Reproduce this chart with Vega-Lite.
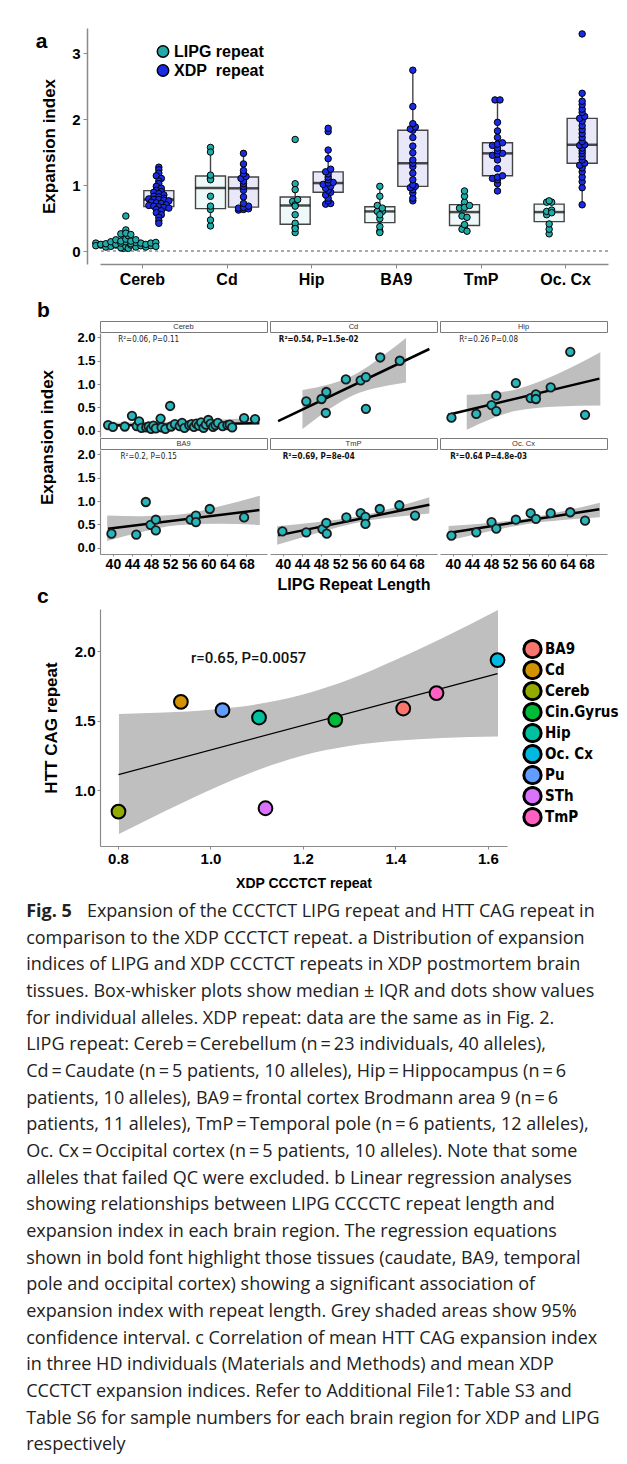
{
"$schema": "https://vega.github.io/schema/vega-lite/v6.json",
"padding": {"left": 26, "top": 28, "right": 0, "bottom": 0},
"background": "white",
"config": {
 "font": "Liberation Sans",
 "view": {"stroke": null},
 "axis": {"grid": false, "domainColor": "#8a8a8a", "tickColor": "#8a8a8a", "labelColor": "#000", "titleColor": "#000", "labelFont": "Liberation Sans", "titleFont": "Liberation Sans", "labelFontWeight": "bold", "titleFontWeight": "bold"},
 "title": {"font": "Liberation Sans", "fontWeight": "bold", "fontSize": 21, "color": "#000", "anchor": "start", "frame": "bounds", "baseline": "alphabetic"},
 "legend": {"titleFont": "Liberation Sans", "labelFont": "Liberation Sans"}
},
"datasets": {
 "alleles": [
  {"region":"Cereb","repeat":"LIPG","len":39,"ei":0.12},{"region":"Cereb","repeat":"LIPG","len":40,"ei":0.08},{"region":"Cereb","repeat":"LIPG","len":42.5,"ei":0.09},{"region":"Cereb","repeat":"LIPG","len":44,"ei":0.32},{"region":"Cereb","repeat":"LIPG","len":45,"ei":0.1},{"region":"Cereb","repeat":"LIPG","len":45.5,"ei":0.2},{"region":"Cereb","repeat":"LIPG","len":46,"ei":0.06},{"region":"Cereb","repeat":"LIPG","len":47,"ei":0.07},{"region":"Cereb","repeat":"LIPG","len":47.5,"ei":0.09},{"region":"Cereb","repeat":"LIPG","len":48,"ei":0.04},
  {"region":"Cereb","repeat":"LIPG","len":48.5,"ei":0.11},{"region":"Cereb","repeat":"LIPG","len":49,"ei":0.05},{"region":"Cereb","repeat":"LIPG","len":50,"ei":0.26},{"region":"Cereb","repeat":"LIPG","len":50.2,"ei":0.07},{"region":"Cereb","repeat":"LIPG","len":51,"ei":0.04},{"region":"Cereb","repeat":"LIPG","len":52,"ei":0.53},{"region":"Cereb","repeat":"LIPG","len":52.2,"ei":0.09},{"region":"Cereb","repeat":"LIPG","len":53,"ei":0.14},{"region":"Cereb","repeat":"LIPG","len":54,"ei":0.1},{"region":"Cereb","repeat":"LIPG","len":54.5,"ei":0.17},
  {"region":"Cereb","repeat":"LIPG","len":55,"ei":0.06},{"region":"Cereb","repeat":"LIPG","len":56,"ei":0.12},{"region":"Cereb","repeat":"LIPG","len":56.5,"ei":0.14},{"region":"Cereb","repeat":"LIPG","len":57,"ei":0.08},{"region":"Cereb","repeat":"LIPG","len":57.5,"ei":0.15},{"region":"Cereb","repeat":"LIPG","len":58,"ei":0.11},{"region":"Cereb","repeat":"LIPG","len":58.5,"ei":0.18},{"region":"Cereb","repeat":"LIPG","len":59,"ei":0.06},{"region":"Cereb","repeat":"LIPG","len":59.5,"ei":0.13},{"region":"Cereb","repeat":"LIPG","len":60,"ei":0.23},
  {"region":"Cereb","repeat":"LIPG","len":60.5,"ei":0.15},{"region":"Cereb","repeat":"LIPG","len":61,"ei":0.08},{"region":"Cereb","repeat":"LIPG","len":61.5,"ei":0.12},{"region":"Cereb","repeat":"LIPG","len":62,"ei":0.17},{"region":"Cereb","repeat":"LIPG","len":63,"ei":0.1},{"region":"Cereb","repeat":"LIPG","len":64,"ei":0.12},{"region":"Cereb","repeat":"LIPG","len":64.5,"ei":0.13},{"region":"Cereb","repeat":"LIPG","len":65,"ei":0.07},{"region":"Cereb","repeat":"LIPG","len":67.5,"ei":0.27},{"region":"Cereb","repeat":"LIPG","len":69.8,"ei":0.25},
  {"region":"Cd","repeat":"LIPG","len":44.9,"ei":0.63},{"region":"Cd","repeat":"LIPG","len":48.1,"ei":0.68},{"region":"Cd","repeat":"LIPG","len":49.1,"ei":0.83},{"region":"Cd","repeat":"LIPG","len":49.0,"ei":0.38},{"region":"Cd","repeat":"LIPG","len":53.2,"ei":1.10},{"region":"Cd","repeat":"LIPG","len":56.3,"ei":1.08},{"region":"Cd","repeat":"LIPG","len":57.4,"ei":1.15},{"region":"Cd","repeat":"LIPG","len":57.4,"ei":0.47},{"region":"Cd","repeat":"LIPG","len":60.4,"ei":1.57},{"region":"Cd","repeat":"LIPG","len":64.5,"ei":1.50},
  {"region":"Hip","repeat":"LIPG","len":39.7,"ei":0.28},{"region":"Hip","repeat":"LIPG","len":44.9,"ei":0.36},{"region":"Hip","repeat":"LIPG","len":48.1,"ei":0.55},{"region":"Hip","repeat":"LIPG","len":49.1,"ei":0.75},{"region":"Hip","repeat":"LIPG","len":49.1,"ei":0.42},{"region":"Hip","repeat":"LIPG","len":53.2,"ei":1.02},{"region":"Hip","repeat":"LIPG","len":56.3,"ei":0.70},{"region":"Hip","repeat":"LIPG","len":57.4,"ei":0.78},{"region":"Hip","repeat":"LIPG","len":57.4,"ei":0.68},{"region":"Hip","repeat":"LIPG","len":60.5,"ei":0.93},{"region":"Hip","repeat":"LIPG","len":64.6,"ei":1.69},{"region":"Hip","repeat":"LIPG","len":67.7,"ei":0.34},
  {"region":"BA9","repeat":"LIPG","len":39.7,"ei":0.30},{"region":"BA9","repeat":"LIPG","len":44.9,"ei":0.28},{"region":"BA9","repeat":"LIPG","len":46.9,"ei":0.98},{"region":"BA9","repeat":"LIPG","len":47.9,"ei":0.49},{"region":"BA9","repeat":"LIPG","len":49.0,"ei":0.60},{"region":"BA9","repeat":"LIPG","len":49.0,"ei":0.37},{"region":"BA9","repeat":"LIPG","len":56.3,"ei":0.60},{"region":"BA9","repeat":"LIPG","len":57.4,"ei":0.69},{"region":"BA9","repeat":"LIPG","len":57.4,"ei":0.55},{"region":"BA9","repeat":"LIPG","len":60.3,"ei":0.83},{"region":"BA9","repeat":"LIPG","len":67.5,"ei":0.65},
  {"region":"TmP","repeat":"LIPG","len":39.9,"ei":0.35},{"region":"TmP","repeat":"LIPG","len":44.9,"ei":0.33},{"region":"TmP","repeat":"LIPG","len":48.3,"ei":0.40},{"region":"TmP","repeat":"LIPG","len":49.1,"ei":0.53},{"region":"TmP","repeat":"LIPG","len":49.2,"ei":0.30},{"region":"TmP","repeat":"LIPG","len":53.3,"ei":0.65},{"region":"TmP","repeat":"LIPG","len":56.3,"ei":0.74},{"region":"TmP","repeat":"LIPG","len":57.3,"ei":0.66},{"region":"TmP","repeat":"LIPG","len":57.3,"ei":0.51},{"region":"TmP","repeat":"LIPG","len":60.3,"ei":0.83},{"region":"TmP","repeat":"LIPG","len":64.4,"ei":0.91},{"region":"TmP","repeat":"LIPG","len":67.7,"ei":0.69},
  {"region":"Oc. Cx","repeat":"LIPG","len":39.7,"ei":0.26},{"region":"Oc. Cx","repeat":"LIPG","len":44.9,"ei":0.33},{"region":"Oc. Cx","repeat":"LIPG","len":48.1,"ei":0.55},{"region":"Oc. Cx","repeat":"LIPG","len":49.1,"ei":0.41},{"region":"Oc. Cx","repeat":"LIPG","len":53.2,"ei":0.60},{"region":"Oc. Cx","repeat":"LIPG","len":56.3,"ei":0.74},{"region":"Oc. Cx","repeat":"LIPG","len":57.4,"ei":0.62},{"region":"Oc. Cx","repeat":"LIPG","len":60.5,"ei":0.74},{"region":"Oc. Cx","repeat":"LIPG","len":64.6,"ei":0.76},{"region":"Oc. Cx","repeat":"LIPG","len":67.7,"ei":0.58},
  {"region":"Cereb","repeat":"XDP","ei":1.27},{"region":"Cereb","repeat":"XDP","ei":1.23},{"region":"Cereb","repeat":"XDP","ei":1.18},{"region":"Cereb","repeat":"XDP","ei":1.14},{"region":"Cereb","repeat":"XDP","ei":1.10},{"region":"Cereb","repeat":"XDP","ei":1.06},{"region":"Cereb","repeat":"XDP","ei":1.02},{"region":"Cereb","repeat":"XDP","ei":0.98},{"region":"Cereb","repeat":"XDP","ei":0.95},{"region":"Cereb","repeat":"XDP","ei":0.92},
  {"region":"Cereb","repeat":"XDP","ei":0.90},{"region":"Cereb","repeat":"XDP","ei":0.89},{"region":"Cereb","repeat":"XDP","ei":0.87},{"region":"Cereb","repeat":"XDP","ei":0.85},{"region":"Cereb","repeat":"XDP","ei":0.83},{"region":"Cereb","repeat":"XDP","ei":0.82},{"region":"Cereb","repeat":"XDP","ei":0.80},{"region":"Cereb","repeat":"XDP","ei":0.79},{"region":"Cereb","repeat":"XDP","ei":0.78},{"region":"Cereb","repeat":"XDP","ei":0.78},
  {"region":"Cereb","repeat":"XDP","ei":0.77},{"region":"Cereb","repeat":"XDP","ei":0.76},{"region":"Cereb","repeat":"XDP","ei":0.74},{"region":"Cereb","repeat":"XDP","ei":0.73},{"region":"Cereb","repeat":"XDP","ei":0.72},{"region":"Cereb","repeat":"XDP","ei":0.70},{"region":"Cereb","repeat":"XDP","ei":0.69},{"region":"Cereb","repeat":"XDP","ei":0.68},{"region":"Cereb","repeat":"XDP","ei":0.67},{"region":"Cereb","repeat":"XDP","ei":0.66},
  {"region":"Cereb","repeat":"XDP","ei":0.65},{"region":"Cereb","repeat":"XDP","ei":0.63},{"region":"Cereb","repeat":"XDP","ei":0.61},{"region":"Cereb","repeat":"XDP","ei":0.58},{"region":"Cereb","repeat":"XDP","ei":0.55},{"region":"Cereb","repeat":"XDP","ei":0.51},{"region":"Cereb","repeat":"XDP","ei":0.46},{"region":"Cereb","repeat":"XDP","ei":0.42},
  {"region":"Cd","repeat":"XDP","ei":0.62},{"region":"Cd","repeat":"XDP","ei":0.63},{"region":"Cd","repeat":"XDP","ei":0.64},{"region":"Cd","repeat":"XDP","ei":0.65},{"region":"Cd","repeat":"XDP","ei":0.66},{"region":"Cd","repeat":"XDP","ei":0.68},{"region":"Cd","repeat":"XDP","ei":0.72},{"region":"Cd","repeat":"XDP","ei":0.82},{"region":"Cd","repeat":"XDP","ei":0.92},{"region":"Cd","repeat":"XDP","ei":0.98},{"region":"Cd","repeat":"XDP","ei":1.02},{"region":"Cd","repeat":"XDP","ei":1.06},{"region":"Cd","repeat":"XDP","ei":1.10},{"region":"Cd","repeat":"XDP","ei":1.13},{"region":"Cd","repeat":"XDP","ei":1.17},{"region":"Cd","repeat":"XDP","ei":1.22},{"region":"Cd","repeat":"XDP","ei":1.32},{"region":"Cd","repeat":"XDP","ei":1.48},
  {"region":"Hip","repeat":"XDP","ei":0.71},{"region":"Hip","repeat":"XDP","ei":0.72},{"region":"Hip","repeat":"XDP","ei":0.76},{"region":"Hip","repeat":"XDP","ei":0.80},{"region":"Hip","repeat":"XDP","ei":0.85},{"region":"Hip","repeat":"XDP","ei":0.89},{"region":"Hip","repeat":"XDP","ei":0.92},{"region":"Hip","repeat":"XDP","ei":0.95},{"region":"Hip","repeat":"XDP","ei":0.98},{"region":"Hip","repeat":"XDP","ei":1.01},{"region":"Hip","repeat":"XDP","ei":1.03},{"region":"Hip","repeat":"XDP","ei":1.04},{"region":"Hip","repeat":"XDP","ei":1.08},{"region":"Hip","repeat":"XDP","ei":1.12},{"region":"Hip","repeat":"XDP","ei":1.17},{"region":"Hip","repeat":"XDP","ei":1.20},{"region":"Hip","repeat":"XDP","ei":1.24},{"region":"Hip","repeat":"XDP","ei":1.40},{"region":"Hip","repeat":"XDP","ei":1.53},{"region":"Hip","repeat":"XDP","ei":1.81},{"region":"Hip","repeat":"XDP","ei":1.86},
  {"region":"BA9","repeat":"XDP","ei":0.76},{"region":"BA9","repeat":"XDP","ei":0.80},{"region":"BA9","repeat":"XDP","ei":0.88},{"region":"BA9","repeat":"XDP","ei":0.93},{"region":"BA9","repeat":"XDP","ei":0.96},{"region":"BA9","repeat":"XDP","ei":0.98},{"region":"BA9","repeat":"XDP","ei":1.00},{"region":"BA9","repeat":"XDP","ei":1.08},{"region":"BA9","repeat":"XDP","ei":1.18},{"region":"BA9","repeat":"XDP","ei":1.28},{"region":"BA9","repeat":"XDP","ei":1.33},{"region":"BA9","repeat":"XDP","ei":1.38},{"region":"BA9","repeat":"XDP","ei":1.49},{"region":"BA9","repeat":"XDP","ei":1.59},{"region":"BA9","repeat":"XDP","ei":1.72},{"region":"BA9","repeat":"XDP","ei":1.83},{"region":"BA9","repeat":"XDP","ei":1.85},{"region":"BA9","repeat":"XDP","ei":1.88},{"region":"BA9","repeat":"XDP","ei":1.93},{"region":"BA9","repeat":"XDP","ei":2.19},{"region":"BA9","repeat":"XDP","ei":2.74},
  {"region":"TmP","repeat":"XDP","ei":0.91},{"region":"TmP","repeat":"XDP","ei":1.02},{"region":"TmP","repeat":"XDP","ei":1.08},{"region":"TmP","repeat":"XDP","ei":1.10},{"region":"TmP","repeat":"XDP","ei":1.12},{"region":"TmP","repeat":"XDP","ei":1.14},{"region":"TmP","repeat":"XDP","ei":1.25},{"region":"TmP","repeat":"XDP","ei":1.38},{"region":"TmP","repeat":"XDP","ei":1.45},{"region":"TmP","repeat":"XDP","ei":1.47},{"region":"TmP","repeat":"XDP","ei":1.48},{"region":"TmP","repeat":"XDP","ei":1.52},{"region":"TmP","repeat":"XDP","ei":1.56},{"region":"TmP","repeat":"XDP","ei":1.60},{"region":"TmP","repeat":"XDP","ei":1.62},{"region":"TmP","repeat":"XDP","ei":1.64},{"region":"TmP","repeat":"XDP","ei":1.72},{"region":"TmP","repeat":"XDP","ei":1.82},{"region":"TmP","repeat":"XDP","ei":1.95},{"region":"TmP","repeat":"XDP","ei":2.29},{"region":"TmP","repeat":"XDP","ei":2.29},
  {"region":"Oc. Cx","repeat":"XDP","ei":0.70},{"region":"Oc. Cx","repeat":"XDP","ei":0.96},{"region":"Oc. Cx","repeat":"XDP","ei":1.05},{"region":"Oc. Cx","repeat":"XDP","ei":1.12},{"region":"Oc. Cx","repeat":"XDP","ei":1.20},{"region":"Oc. Cx","repeat":"XDP","ei":1.26},{"region":"Oc. Cx","repeat":"XDP","ei":1.30},{"region":"Oc. Cx","repeat":"XDP","ei":1.33},{"region":"Oc. Cx","repeat":"XDP","ei":1.38},{"region":"Oc. Cx","repeat":"XDP","ei":1.43},{"region":"Oc. Cx","repeat":"XDP","ei":1.48},{"region":"Oc. Cx","repeat":"XDP","ei":1.52},{"region":"Oc. Cx","repeat":"XDP","ei":1.56},{"region":"Oc. Cx","repeat":"XDP","ei":1.60},{"region":"Oc. Cx","repeat":"XDP","ei":1.61},{"region":"Oc. Cx","repeat":"XDP","ei":1.66},{"region":"Oc. Cx","repeat":"XDP","ei":1.72},{"region":"Oc. Cx","repeat":"XDP","ei":1.78},{"region":"Oc. Cx","repeat":"XDP","ei":1.84},{"region":"Oc. Cx","repeat":"XDP","ei":1.90},{"region":"Oc. Cx","repeat":"XDP","ei":1.97},{"region":"Oc. Cx","repeat":"XDP","ei":2.01},{"region":"Oc. Cx","repeat":"XDP","ei":2.04},{"region":"Oc. Cx","repeat":"XDP","ei":2.10},{"region":"Oc. Cx","repeat":"XDP","ei":2.15},{"region":"Oc. Cx","repeat":"XDP","ei":2.22},{"region":"Oc. Cx","repeat":"XDP","ei":2.27},{"region":"Oc. Cx","repeat":"XDP","ei":2.39},{"region":"Oc. Cx","repeat":"XDP","ei":3.29}
 ],
 "stats": [
  {"region":"Cereb","label":"R²=0.06, P=0.11","sig":false},
  {"region":"Cd","label":"R²=0.54, P=1.5e-02","sig":true},
  {"region":"Hip","label":"R²=0.26 P=0.08","sig":false},
  {"region":"BA9","label":"R²=0.2, P=0.15","sig":false},
  {"region":"TmP","label":"R²=0.69, P=8e-04","sig":true},
  {"region":"Oc. Cx","label":"R²=0.64  P=4.8e-03","sig":true}
 ],
 "bands": [
  {"region":"Cereb","len":39,"lo":0.063,"hi":0.173},{"region":"Cereb","len":46.75,"lo":0.110,"hi":0.180},{"region":"Cereb","len":54.5,"lo":0.148,"hi":0.197},{"region":"Cereb","len":62.25,"lo":0.165,"hi":0.235},{"region":"Cereb","len":70,"lo":0.172,"hi":0.282},
  {"region":"Cd","len":44.1,"lo":0.036,"hi":0.872},{"region":"Cd","len":47,"lo":0.264,"hi":0.928},{"region":"Cd","len":50,"lo":0.483,"hi":1.001},{"region":"Cd","len":54,"lo":0.725,"hi":1.151},{"region":"Cd","len":58,"lo":0.876,"hi":1.390},{"region":"Cd","len":62,"lo":0.969,"hi":1.687},{"region":"Cd","len":65.8,"lo":1.036,"hi":1.990},
  {"region":"Hip","len":42.9,"lo":0.02,"hi":0.77},{"region":"Hip","len":48,"lo":0.25,"hi":0.80},{"region":"Hip","len":53,"lo":0.42,"hi":0.88},{"region":"Hip","len":62,"lo":0.52,"hi":1.22},{"region":"Hip","len":70.9,"lo":0.54,"hi":1.68},
  {"region":"BA9","len":38.8,"lo":0.145,"hi":0.691},{"region":"BA9","len":46,"lo":0.336,"hi":0.672},{"region":"BA9","len":53.5,"lo":0.484,"hi":0.704},{"region":"BA9","len":62,"lo":0.514,"hi":0.878},{"region":"BA9","len":70.8,"lo":0.488,"hi":1.116},
  {"region":"TmP","len":38.8,"lo":0.062,"hi":0.462},{"region":"TmP","len":47.4,"lo":0.322,"hi":0.550},{"region":"TmP","len":56,"lo":0.548,"hi":0.674},{"region":"TmP","len":63.35,"lo":0.657,"hi":0.863},{"region":"TmP","len":70.7,"lo":0.735,"hi":1.083},
  {"region":"Oc. Cx","len":39.1,"lo":0.153,"hi":0.463},{"region":"Oc. Cx","len":47,"lo":0.339,"hi":0.527},{"region":"Oc. Cx","len":55,"lo":0.500,"hi":0.620},{"region":"Oc. Cx","len":63,"lo":0.592,"hi":0.780},{"region":"Oc. Cx","len":70.8,"lo":0.655,"hi":0.963}
 ],
 "htt": [
  {"region":"BA9","xdp":1.417,"htt":1.589},{"region":"Cd","xdp":0.936,"htt":1.637},{"region":"Cereb","xdp":0.801,"htt":0.846},{"region":"Cin.Gyrus","xdp":1.270,"htt":1.507},{"region":"Hip","xdp":1.105,"htt":1.524},{"region":"Oc. Cx","xdp":1.621,"htt":1.938},{"region":"Pu","xdp":1.026,"htt":1.577},{"region":"STh","xdp":1.119,"htt":0.870},{"region":"TmP","xdp":1.489,"htt":1.700}
 ],
 "cband": [
  {"xdp":0.802,"lo":0.684,"hi":1.550},{"xdp":0.9,"lo":0.847,"hi":1.560},{"xdp":1.0,"lo":1.004,"hi":1.580},{"xdp":1.1,"lo":1.142,"hi":1.619},{"xdp":1.2,"lo":1.250,"hi":1.690},{"xdp":1.3,"lo":1.318,"hi":1.798},{"xdp":1.4,"lo":1.356,"hi":1.938},{"xdp":1.5,"lo":1.376,"hi":2.094},{"xdp":1.622,"lo":1.387,"hi":2.299}
 ],
 "cnote": [{"label":"r=0.65, P=0.0057"}]
},
"resolve": {"scale": {"fill": "independent"}, "legend": {"fill": "independent"}},
"spacing": 2,
"vconcat": [
 {"spacing": 12, "vconcat": [
  {
   "width": 508, "height": 236,
   "title": {"text": "a", "dx": -5, "dy": 24, "offset": 0},
   "data": {"name": "alleles"},
   "resolve": {"scale": {"xOffset": "independent"}},
   "layer": [
    {"data": {"values": [{}]}, "mark": {"type": "rule", "strokeDash": [3, 3], "color": "#555", "strokeWidth": 1}, "encoding": {"y": {"datum": 0, "type": "quantitative"}}},
    {"transform": [{"filter": "datum.repeat == 'LIPG'"}],
     "mark": {"type": "boxplot", "extent": 1.5, "size": 30, "outliers": false, "box": {"color": "#eef8f8", "stroke": "#444", "strokeWidth": 1.4}, "median": {"color": "#000", "thickness": 2.5}, "rule": {"color": "#444", "strokeWidth": 1.4}},
     "encoding": {
      "x": {"field": "region", "type": "nominal", "sort": ["Cereb","Cd","Hip","BA9","TmP","Oc. Cx"], "scale": {"paddingInner": 0, "paddingOuter": 0}, "axis": {"title": null, "labelAngle": 0, "labelFontSize": 16, "labelPadding": 3, "tickSize": 4, "domainWidth": 1.5}},
      "xOffset": {"field": "repeat", "type": "nominal", "scale": {"domain": ["LIPG","XDP"], "paddingInner": 0, "paddingOuter": 0.283}},
      "y": {"field": "ei", "type": "quantitative", "scale": {"domain": [-0.197, 3.38], "nice": false, "zero": false}, "axis": {"values": [0,1,2,3], "format": "d", "title": "Expansion index", "titleFontSize": 17, "labelFontSize": 15, "tickSize": 4, "labelPadding": 3, "titlePadding": 13, "offset": 13, "domainWidth": 1.5}}
     }},
    {"transform": [{"filter": "datum.repeat == 'XDP'"}],
     "mark": {"type": "boxplot", "extent": 1.5, "size": 30, "outliers": false, "box": {"color": "#e8e8f8", "stroke": "#444", "strokeWidth": 1.4}, "median": {"color": "#000", "thickness": 2.5}, "rule": {"color": "#444", "strokeWidth": 1.4}},
     "encoding": {
      "x": {"field": "region", "type": "nominal", "sort": ["Cereb","Cd","Hip","BA9","TmP","Oc. Cx"], "scale": {"paddingInner": 0, "paddingOuter": 0}, "axis": {"title": null, "labelAngle": 0, "labelFontSize": 16, "labelPadding": 3, "tickSize": 4, "domainWidth": 1.5}},
      "xOffset": {"field": "repeat", "type": "nominal", "scale": {"domain": ["LIPG","XDP"], "paddingInner": 0, "paddingOuter": 0.283}},
      "y": {"field": "ei", "type": "quantitative", "scale": {"domain": [-0.197, 3.38], "nice": false, "zero": false}, "axis": {"values": [0,1,2,3], "format": "d", "title": "Expansion index", "titleFontSize": 17, "labelFontSize": 15, "tickSize": 4, "labelPadding": 3, "titlePadding": 13, "offset": 13, "domainWidth": 1.5}}
     }},
    {"transform": [
      {"bin": {"step": 0.05}, "field": "ei", "as": "eb"},
      {"window": [{"op": "row_number", "as": "k"}], "groupby": ["region", "repeat", "eb"]},
      {"window": [{"op": "row_number", "as": "one"}], "groupby": ["region", "repeat", "eb", "k"]},
      {"stack": "one", "groupby": ["region", "repeat", "eb"], "offset": "center", "as": ["s0", "s1"]},
      {"filter": "datum.repeat == 'LIPG'"}
     ],
     "mark": {"type": "circle", "size": 42, "stroke": "#000", "strokeWidth": 1, "opacity": 1},
     "encoding": {
      "x": {"field": "region", "type": "nominal", "sort": ["Cereb","Cd","Hip","BA9","TmP","Oc. Cx"]},
      "xOffset": {"field": "s0", "type": "quantitative", "scale": {"domain": [-4, 16], "range": [-24.17, 75.83]}},
      "y": {"field": "ei", "type": "quantitative"},
      "fill": {"field": "repeat", "type": "nominal", "scale": {"domain": ["LIPG","XDP"], "range": ["#20aaa8", "#1a2be6"]},
       "legend": {"orient": "none", "legendX": 55, "legendY": 14, "title": null, "labelFontSize": 16, "labelFontWeight": "bold", "labelColor": "#000", "symbolSize": 130, "symbolStrokeColor": "#000", "symbolStrokeWidth": 1.5, "symbolType": "circle", "labelExpr": "datum.label == 'LIPG' ? 'LIPG repeat' : 'XDP\u00a0 repeat'", "rowPadding": 0, "clipHeight": 19, "labelOffset": 3, "padding": 0}}
     }},
    {"transform": [
      {"bin": {"step": 0.05}, "field": "ei", "as": "eb"},
      {"window": [{"op": "row_number", "as": "k"}], "groupby": ["region", "repeat", "eb"]},
      {"window": [{"op": "row_number", "as": "one"}], "groupby": ["region", "repeat", "eb", "k"]},
      {"stack": "one", "groupby": ["region", "repeat", "eb"], "offset": "center", "as": ["s0", "s1"]},
      {"filter": "datum.repeat == 'XDP'"}
     ],
     "mark": {"type": "circle", "size": 42, "stroke": "#000", "strokeWidth": 1, "opacity": 1},
     "encoding": {
      "x": {"field": "region", "type": "nominal", "sort": ["Cereb","Cd","Hip","BA9","TmP","Oc. Cx"]},
      "xOffset": {"field": "s0", "type": "quantitative", "scale": {"domain": [-4, 16], "range": [8.83, 108.83]}},
      "y": {"field": "ei", "type": "quantitative"},
      "fill": {"field": "repeat", "type": "nominal", "scale": {"domain": ["LIPG","XDP"], "range": ["#20aaa8", "#1a2be6"]}}
     }}
   ]
  },
  {"title": {"text": "c", "orient": "bottom", "anchor": "start", "offset": -6, "baseline": "top"},
   "vconcat": [
   {"title": {"text": "b", "dx": -2, "offset": 0},
    "columns": 3, "spacing": {"row": 1, "column": 3}, "bounds": "flush",
    "concat": [
     {"width": 167, "height": 11, "view": {"stroke": "#7a7a7a", "strokeWidth": 1}, "data": {"name": "stats"}, "transform": [{"filter": "datum.region == 'Cereb'"}], "mark": {"type": "text", "fontSize": 7.5, "color": "#333", "baseline": "middle"}, "encoding": {"x": {"field": "region", "type": "nominal", "axis": null}, "y": {"field": "region", "type": "nominal", "axis": null}, "text": {"field": "region"}}},
     {"width": 167, "height": 11, "view": {"stroke": "#7a7a7a", "strokeWidth": 1}, "data": {"name": "stats"}, "transform": [{"filter": "datum.region == 'Cd'"}], "mark": {"type": "text", "fontSize": 7.5, "color": "#333", "baseline": "middle"}, "encoding": {"x": {"field": "region", "type": "nominal", "axis": null}, "y": {"field": "region", "type": "nominal", "axis": null}, "text": {"field": "region"}}},
     {"width": 167, "height": 11, "view": {"stroke": "#7a7a7a", "strokeWidth": 1}, "data": {"name": "stats"}, "transform": [{"filter": "datum.region == 'Hip'"}], "mark": {"type": "text", "fontSize": 7.5, "color": "#333", "baseline": "middle"}, "encoding": {"x": {"field": "region", "type": "nominal", "axis": null}, "y": {"field": "region", "type": "nominal", "axis": null}, "text": {"field": "region"}}},
     {"width": 167, "height": 104,
      "layer": [
       {"encoding": {"x": {"field": "len", "type": "quantitative", "scale": {"domain": [37.3, 72.3], "nice": false, "zero": false}, "axis": null}, "y": {"field": "ei", "type": "quantitative", "scale": {"domain": [-0.135, 2.095], "nice": false, "zero": false}, "axis": {"values": [0,0.5,1,1.5,2], "format": ".1f", "title": null, "labelFontSize": 13, "tickSize": 3, "labelPadding": 2, "domainWidth": 1.2}}},
        "layer": [
         {"data": {"name": "bands"}, "transform": [{"filter": "datum.region == 'Cereb'"}], "mark": {"type": "area", "color": "#bebebe", "interpolate": "monotone"}, "encoding": {"y": {"field": "lo"}, "y2": {"field": "hi"}}},
         {"data": {"name": "alleles"}, "transform": [{"filter": "datum.repeat == 'LIPG' && datum.region == 'Cereb'"}, {"regression": "ei", "on": "len", "extent": [39, 70.7]}], "mark": {"type": "line", "color": "#000", "strokeWidth": 2.5}},
         {"data": {"name": "alleles"}, "transform": [{"filter": "datum.repeat == 'LIPG' && datum.region == 'Cereb'"}], "mark": {"type": "circle", "size": 72, "fill": "#27b6bc", "stroke": "#1a1a1a", "strokeWidth": 1.8, "opacity": 1}}
        ]},
       {"data": {"name": "stats"}, "transform": [{"filter": "datum.region == 'Cereb'"}], "mark": {"type": "text", "font": "Liberation Sans Narrow, DejaVu Sans Condensed, sans-serif", "fontSize": 8, "color": "#222"},
        "encoding": {"x": {"datum": 47.5, "type": "quantitative", "axis": null}, "y": {"datum": 1.95, "type": "quantitative", "axis": {"values": [0,0.5,1,1.5,2], "format": ".1f", "title": null, "labelFontSize": 13, "tickSize": 3, "labelPadding": 2, "domainWidth": 1.2}}, "text": {"field": "label"}}}
      ]},
     {"width": 167, "height": 104,
      "layer": [
       {"encoding": {"x": {"field": "len", "type": "quantitative", "scale": {"domain": [37.3, 72.3], "nice": false, "zero": false}, "axis": null}, "y": {"field": "ei", "type": "quantitative", "scale": {"domain": [-0.135, 2.095], "nice": false, "zero": false}, "axis": null}},
        "layer": [
         {"data": {"name": "bands"}, "transform": [{"filter": "datum.region == 'Cd'"}], "mark": {"type": "area", "color": "#bebebe", "interpolate": "monotone"}, "encoding": {"y": {"field": "lo"}, "y2": {"field": "hi"}}},
         {"data": {"name": "alleles"}, "transform": [{"filter": "datum.repeat == 'LIPG' && datum.region == 'Cd'"}, {"regression": "ei", "on": "len", "extent": [39, 70.7]}], "mark": {"type": "line", "color": "#000", "strokeWidth": 2.5}},
         {"data": {"name": "alleles"}, "transform": [{"filter": "datum.repeat == 'LIPG' && datum.region == 'Cd'"}], "mark": {"type": "circle", "size": 72, "fill": "#27b6bc", "stroke": "#1a1a1a", "strokeWidth": 1.8, "opacity": 1}}
        ]},
       {"data": {"name": "stats"}, "transform": [{"filter": "datum.region == 'Cd'"}], "mark": {"type": "text", "font": "Liberation Sans Narrow, DejaVu Sans Condensed, sans-serif", "fontSize": 8, "fontWeight": "bold", "color": "#111"},
        "encoding": {"x": {"datum": 47.5, "type": "quantitative", "axis": null}, "y": {"datum": 1.95, "type": "quantitative", "axis": null}, "text": {"field": "label"}}}
      ]},
     {"width": 167, "height": 104,
      "layer": [
       {"encoding": {"x": {"field": "len", "type": "quantitative", "scale": {"domain": [37.3, 72.3], "nice": false, "zero": false}, "axis": null}, "y": {"field": "ei", "type": "quantitative", "scale": {"domain": [-0.135, 2.095], "nice": false, "zero": false}, "axis": null}},
        "layer": [
         {"data": {"name": "bands"}, "transform": [{"filter": "datum.region == 'Hip'"}], "mark": {"type": "area", "color": "#bebebe", "interpolate": "monotone"}, "encoding": {"y": {"field": "lo"}, "y2": {"field": "hi"}}},
         {"data": {"name": "alleles"}, "transform": [{"filter": "datum.repeat == 'LIPG' && datum.region == 'Hip'"}, {"regression": "ei", "on": "len", "extent": [39, 70.7]}], "mark": {"type": "line", "color": "#000", "strokeWidth": 2.5}},
         {"data": {"name": "alleles"}, "transform": [{"filter": "datum.repeat == 'LIPG' && datum.region == 'Hip'"}], "mark": {"type": "circle", "size": 72, "fill": "#27b6bc", "stroke": "#1a1a1a", "strokeWidth": 1.8, "opacity": 1}}
        ]},
       {"data": {"name": "stats"}, "transform": [{"filter": "datum.region == 'Hip'"}], "mark": {"type": "text", "font": "Liberation Sans Narrow, DejaVu Sans Condensed, sans-serif", "fontSize": 8, "color": "#222"},
        "encoding": {"x": {"datum": 47.5, "type": "quantitative", "axis": null}, "y": {"datum": 1.95, "type": "quantitative", "axis": null}, "text": {"field": "label"}}}
      ]},
     {"width": 167, "height": 11, "view": {"stroke": "#7a7a7a", "strokeWidth": 1}, "data": {"name": "stats"}, "transform": [{"filter": "datum.region == 'BA9'"}], "mark": {"type": "text", "fontSize": 7.5, "color": "#333", "baseline": "middle"}, "encoding": {"x": {"field": "region", "type": "nominal", "axis": null}, "y": {"field": "region", "type": "nominal", "axis": null}, "text": {"field": "region"}}},
     {"width": 167, "height": 11, "view": {"stroke": "#7a7a7a", "strokeWidth": 1}, "data": {"name": "stats"}, "transform": [{"filter": "datum.region == 'TmP'"}], "mark": {"type": "text", "fontSize": 7.5, "color": "#333", "baseline": "middle"}, "encoding": {"x": {"field": "region", "type": "nominal", "axis": null}, "y": {"field": "region", "type": "nominal", "axis": null}, "text": {"field": "region"}}},
     {"width": 167, "height": 11, "view": {"stroke": "#7a7a7a", "strokeWidth": 1}, "data": {"name": "stats"}, "transform": [{"filter": "datum.region == 'Oc. Cx'"}], "mark": {"type": "text", "fontSize": 7.5, "color": "#333", "baseline": "middle"}, "encoding": {"x": {"field": "region", "type": "nominal", "axis": null}, "y": {"field": "region", "type": "nominal", "axis": null}, "text": {"field": "region"}}},
     {"width": 167, "height": 104,
      "layer": [
       {"encoding": {"x": {"field": "len", "type": "quantitative", "scale": {"domain": [37.3, 72.3], "nice": false, "zero": false}, "axis": {"values": [40,44,48,52,56,60,64,68], "title": null, "labelFontSize": 14, "tickSize": 2, "labelPadding": 1, "domainWidth": 1.2}}, "y": {"field": "ei", "type": "quantitative", "scale": {"domain": [-0.135, 2.095], "nice": false, "zero": false}, "axis": {"values": [0,0.5,1,1.5,2], "format": ".1f", "title": "Expansion index", "titleFontSize": 17, "titleY": -13, "titlePadding": 20, "labelFontSize": 13, "tickSize": 3, "labelPadding": 2, "domainWidth": 1.2}}},
        "layer": [
         {"data": {"name": "bands"}, "transform": [{"filter": "datum.region == 'BA9'"}], "mark": {"type": "area", "color": "#bebebe", "interpolate": "monotone"}, "encoding": {"y": {"field": "lo"}, "y2": {"field": "hi"}}},
         {"data": {"name": "alleles"}, "transform": [{"filter": "datum.repeat == 'LIPG' && datum.region == 'BA9'"}, {"regression": "ei", "on": "len", "extent": [39, 70.7]}], "mark": {"type": "line", "color": "#000", "strokeWidth": 2.5}},
         {"data": {"name": "alleles"}, "transform": [{"filter": "datum.repeat == 'LIPG' && datum.region == 'BA9'"}], "mark": {"type": "circle", "size": 72, "fill": "#27b6bc", "stroke": "#1a1a1a", "strokeWidth": 1.8, "opacity": 1}}
        ]},
       {"data": {"name": "stats"}, "transform": [{"filter": "datum.region == 'BA9'"}], "mark": {"type": "text", "font": "Liberation Sans Narrow, DejaVu Sans Condensed, sans-serif", "fontSize": 8, "color": "#222"},
        "encoding": {"x": {"datum": 47.5, "type": "quantitative", "axis": {"values": [40,44,48,52,56,60,64,68], "title": null, "labelFontSize": 14, "tickSize": 2, "labelPadding": 1, "domainWidth": 1.2}}, "y": {"datum": 1.95, "type": "quantitative", "axis": {"values": [0,0.5,1,1.5,2], "format": ".1f", "title": "Expansion index", "titleFontSize": 17, "titleY": -13, "titlePadding": 20, "labelFontSize": 13, "tickSize": 3, "labelPadding": 2, "domainWidth": 1.2}}, "text": {"field": "label"}}}
      ]},
     {"width": 167, "height": 104,
      "layer": [
       {"encoding": {"x": {"field": "len", "type": "quantitative", "scale": {"domain": [37.3, 72.3], "nice": false, "zero": false}, "axis": {"values": [40,44,48,52,56,60,64,68], "title": "LIPG Repeat Length", "titleFontSize": 16, "titlePadding": 5, "labelFontSize": 14, "tickSize": 2, "labelPadding": 1, "domainWidth": 1.2}}, "y": {"field": "ei", "type": "quantitative", "scale": {"domain": [-0.135, 2.095], "nice": false, "zero": false}, "axis": null}},
        "layer": [
         {"data": {"name": "bands"}, "transform": [{"filter": "datum.region == 'TmP'"}], "mark": {"type": "area", "color": "#bebebe", "interpolate": "monotone"}, "encoding": {"y": {"field": "lo"}, "y2": {"field": "hi"}}},
         {"data": {"name": "alleles"}, "transform": [{"filter": "datum.repeat == 'LIPG' && datum.region == 'TmP'"}, {"regression": "ei", "on": "len", "extent": [39, 70.7]}], "mark": {"type": "line", "color": "#000", "strokeWidth": 2.5}},
         {"data": {"name": "alleles"}, "transform": [{"filter": "datum.repeat == 'LIPG' && datum.region == 'TmP'"}], "mark": {"type": "circle", "size": 72, "fill": "#27b6bc", "stroke": "#1a1a1a", "strokeWidth": 1.8, "opacity": 1}}
        ]},
       {"data": {"name": "stats"}, "transform": [{"filter": "datum.region == 'TmP'"}], "mark": {"type": "text", "font": "Liberation Sans Narrow, DejaVu Sans Condensed, sans-serif", "fontSize": 8, "fontWeight": "bold", "color": "#111"},
        "encoding": {"x": {"datum": 47.5, "type": "quantitative", "axis": {"values": [40,44,48,52,56,60,64,68], "title": "LIPG Repeat Length", "titleFontSize": 16, "titlePadding": 5, "labelFontSize": 14, "tickSize": 2, "labelPadding": 1, "domainWidth": 1.2}}, "y": {"datum": 1.95, "type": "quantitative", "axis": null}, "text": {"field": "label"}}}
      ]},
     {"width": 167, "height": 104,
      "layer": [
       {"encoding": {"x": {"field": "len", "type": "quantitative", "scale": {"domain": [37.3, 72.3], "nice": false, "zero": false}, "axis": {"values": [40,44,48,52,56,60,64,68], "title": null, "labelFontSize": 14, "tickSize": 2, "labelPadding": 1, "domainWidth": 1.2}}, "y": {"field": "ei", "type": "quantitative", "scale": {"domain": [-0.135, 2.095], "nice": false, "zero": false}, "axis": null}},
        "layer": [
         {"data": {"name": "bands"}, "transform": [{"filter": "datum.region == 'Oc. Cx'"}], "mark": {"type": "area", "color": "#bebebe", "interpolate": "monotone"}, "encoding": {"y": {"field": "lo"}, "y2": {"field": "hi"}}},
         {"data": {"name": "alleles"}, "transform": [{"filter": "datum.repeat == 'LIPG' && datum.region == 'Oc. Cx'"}, {"regression": "ei", "on": "len", "extent": [39, 70.7]}], "mark": {"type": "line", "color": "#000", "strokeWidth": 2.5}},
         {"data": {"name": "alleles"}, "transform": [{"filter": "datum.repeat == 'LIPG' && datum.region == 'Oc. Cx'"}], "mark": {"type": "circle", "size": 72, "fill": "#27b6bc", "stroke": "#1a1a1a", "strokeWidth": 1.8, "opacity": 1}}
        ]},
       {"data": {"name": "stats"}, "transform": [{"filter": "datum.region == 'Oc. Cx'"}], "mark": {"type": "text", "font": "Liberation Sans Narrow, DejaVu Sans Condensed, sans-serif", "fontSize": 8, "fontWeight": "bold", "color": "#111"},
        "encoding": {"x": {"datum": 47.5, "type": "quantitative", "axis": {"values": [40,44,48,52,56,60,64,68], "title": null, "labelFontSize": 14, "tickSize": 2, "labelPadding": 1, "domainWidth": 1.2}}, "y": {"datum": 1.95, "type": "quantitative", "axis": null}, "text": {"field": "label"}}}
      ]}
    ]}
  ]}
 ]},
 {
  "width": 407, "height": 237,
  "title": {
   "text": "Fig. 5", "orient": "bottom", "anchor": "start", "frame": "bounds", "dx": -16, "offset": 13, "baseline": "top",
   "font": "Open Sans", "fontSize": 18, "fontWeight": "bold", "color": "#222", "lineHeight": 18,
   "subtitle": [
    "\u200b\u00a0\u00a0\u00a0\u00a0\u00a0\u00a0\u00a0\u00a0\u00a0\u00a0\u00a0\u00a0\u00a0Expansion of the CCCTCT LIPG repeat and HTT CAG repeat in",
    "comparison to the XDP CCCTCT repeat. a Distribution of expansion",
    "indices of LIPG and XDP CCCTCT repeats in XDP postmortem brain",
    "tissues. Box-whisker plots show median ± IQR and dots show values",
    "for individual alleles. XDP repeat: data are the same as in Fig. 2.",
    "LIPG repeat: Cereb\u2009=\u2009Cerebellum (n\u2009=\u200923 individuals, 40 alleles),",
    "Cd\u2009=\u2009Caudate (n\u2009=\u20095 patients, 10 alleles), Hip\u2009=\u2009Hippocampus (n\u2009=\u20096",
    "patients, 10 alleles), BA9\u2009=\u2009frontal cortex Brodmann area 9 (n\u2009=\u20096",
    "patients, 11 alleles), TmP\u2009=\u2009Temporal pole (n\u2009=\u20096 patients, 12 alleles),",
    "Oc. Cx\u2009=\u2009Occipital cortex (n\u2009=\u20095 patients, 10 alleles). Note that some",
    "alleles that failed QC were excluded. b Linear regression analyses",
    "showing relationships between LIPG CCCCTC repeat length and",
    "expansion index in each brain region. The regression equations",
    "shown in bold font highlight those tissues (caudate, BA9, temporal",
    "pole and occipital cortex) showing a significant association of",
    "expansion index with repeat length. Grey shaded areas show 95%",
    "confidence interval. c Correlation of mean HTT CAG expansion index",
    "in three HD individuals (Materials and Methods) and mean XDP",
    "CCCTCT expansion indices. Refer to Additional File1: Table S3 and",
    "Table S6 for sample numbers for each brain region for XDP and LIPG",
    "respectively"
   ],
   "subtitleFont": "Open Sans", "subtitleFontSize": 18, "subtitleFontWeight": "normal", "subtitleColor": "#222", "subtitleLineHeight": 26.67, "subtitlePadding": -18
  },
  "layer": [
   {"encoding": {
     "x": {"field": "xdp", "type": "quantitative", "scale": {"domain": [0.761, 1.6415], "nice": false, "zero": false}, "axis": {"values": [0.8,1,1.2,1.4,1.6], "format": ".1f", "title": "XDP CCCTCT repeat", "titleFontSize": 14, "labelFontSize": 15, "tickSize": 3, "labelPadding": 2, "titlePadding": 10, "domainWidth": 1.2}},
     "y": {"field": "htt", "type": "quantitative", "scale": {"domain": [0.598, 2.306], "nice": false, "zero": false}, "axis": {"values": [1,1.5,2], "format": ".1f", "title": "HTT CAG repeat", "titleFontSize": 17, "labelFontSize": 15, "tickSize": 3, "labelPadding": 2, "titlePadding": 14, "domainWidth": 1.2}}
    },
    "layer": [
     {"data": {"name": "cband"}, "mark": {"type": "area", "color": "#bfbfbf", "interpolate": "monotone"}, "encoding": {"y": {"field": "lo"}, "y2": {"field": "hi"}}},
     {"data": {"name": "htt"}, "transform": [{"regression": "htt", "on": "xdp"}], "mark": {"type": "line", "color": "#000", "strokeWidth": 1.2}},
     {"data": {"name": "htt"}, "mark": {"type": "circle", "size": 190, "stroke": "#000", "strokeWidth": 2, "opacity": 1},
      "encoding": {"fill": {"field": "region", "type": "nominal", "scale": {"domain": ["BA9","Cd","Cereb","Cin.Gyrus","Hip","Oc. Cx","Pu","STh","TmP"], "range": ["#F8766D","#D39200","#93AA00","#00BA38","#00C19F","#00B9E3","#619CFF","#DB72FB","#FF61C3"]},
       "legend": {"orient": "none", "legendX": 422, "legendY": 30, "title": null, "labelFont": "Liberation Sans Narrow, DejaVu Sans Condensed, sans-serif", "labelFontSize": 15, "labelFontWeight": "bold", "labelColor": "#000", "symbolSize": 300, "symbolStrokeColor": "#000", "symbolStrokeWidth": 3, "symbolType": "circle", "rowPadding": 0, "clipHeight": 20.25, "labelOffset": 2, "padding": 0}}}}
    ]},
   {"data": {"name": "cnote"}, "mark": {"type": "text", "font": "Roboto", "fontSize": 15, "fontWeight": 500, "color": "#111"},
    "encoding": {
     "x": {"datum": 1.0825, "type": "quantitative", "axis": {"values": [0.8,1,1.2,1.4,1.6], "format": ".1f", "title": "XDP CCCTCT repeat", "titleFontSize": 14, "labelFontSize": 15, "tickSize": 3, "labelPadding": 2, "titlePadding": 10, "domainWidth": 1.2}},
     "y": {"datum": 1.953, "type": "quantitative", "axis": {"values": [1,1.5,2], "format": ".1f", "title": "HTT CAG repeat", "titleFontSize": 17, "labelFontSize": 15, "tickSize": 3, "labelPadding": 2, "titlePadding": 14, "domainWidth": 1.2}},
     "text": {"field": "label"}}}
  ]
 }
]
}
